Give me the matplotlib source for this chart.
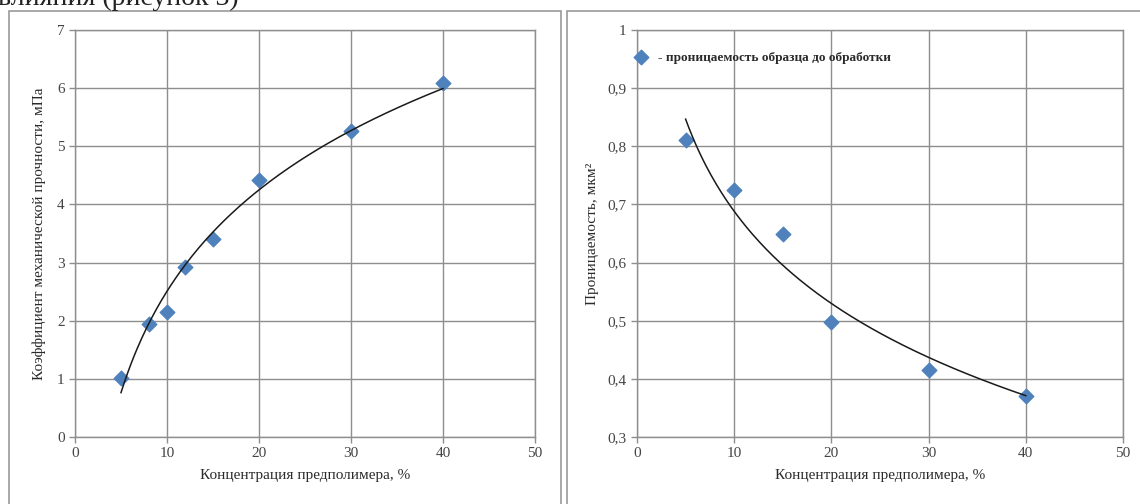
import numpy as np
import matplotlib
matplotlib.use("Agg")
import matplotlib.pyplot as plt
from matplotlib.patches import Rectangle

plt.rcParams['font.family'] = ['Liberation Serif', 'DejaVu Serif']

# left chart: strength coefficient
conc_left = [5, 8, 10, 12, 15, 20, 30, 40]
strength = [1.02, 1.95, 2.15, 2.93, 3.40, 4.42, 5.27, 6.08]

# right chart: permeability before treatment
conc_right = [5, 10, 15, 20, 30, 40]
permeability = [0.81, 0.725, 0.65, 0.498, 0.415, 0.37]

x_ticks = [0, 10, 20, 30, 40, 50]
left_yticks = [0, 1, 2, 3, 4, 5, 6, 7]
right_yticks = [0.3, 0.4, 0.5, 0.6, 0.7, 0.8, 0.9, 1.0]
right_ylabels = ['0,3', '0,4', '0,5', '0,6', '0,7', '0,8', '0,9', '1']

xlabel = 'Концентрация предполимера, %'
left_ylabel = 'Коэффициент механической прочности, мПа'
right_ylabel = 'Проницаемость, мкм²'
legend_text = '- проницаемость образца до обработки'

marker_color = '#4f81bd'
grid_color = '#8e8e8e'
tick_color = '#444444'

fig = plt.figure(figsize=(11.4, 5.04), dpi=100)

# outer chart frames (figure coords)
fig.patches.append(Rectangle((9 / 1140, -0.1), 552 / 1140, 1.1 - 11 / 504,
                             transform=fig.transFigure, fill=False,
                             edgecolor='#9a9a9a', lw=1.2))
fig.patches.append(Rectangle((567 / 1140, -0.1), 0.6, 1.1 - 11 / 504,
                             transform=fig.transFigure, fill=False,
                             edgecolor='#9a9a9a', lw=1.2))

# line of document text above the charts, cut by the page edge as in the scan
fig.text(-2 / 1140, 1 - 5 / 504, 'влияния (рисунок 3)', fontsize=20,
         va='baseline', ha='left', color='#222222')

ax1 = fig.add_axes([75 / 1140, 1 - 437 / 504, 460 / 1140, 407 / 504])
ax2 = fig.add_axes([637 / 1140, 1 - 437 / 504, 486 / 1140, 407 / 504])


def log_trend(ax, xs, ys):
    xs = np.asarray(xs, dtype=float)
    a, b = np.polyfit(np.log(xs), ys, 1)
    xx = np.linspace(xs.min(), xs.max(), 200)
    ax.plot(xx, a * np.log(xx) + b, color='#1a1a1a', lw=1.1, zorder=4)


def style(ax):
    ax.set_xlim(0, 50)
    ax.set_xticks(x_ticks)
    ax.grid(True, color=grid_color, lw=1)
    ax.set_axisbelow(True)
    for s in ax.spines.values():
        s.set_color(grid_color)
        s.set_linewidth(1)
    ax.tick_params(colors=grid_color, labelcolor=tick_color, labelsize=11,
                   length=4, width=1)
    ax.set_xlabel(xlabel, fontsize=11, color='#2a2a2a', labelpad=6)


ax1.scatter(conc_left, strength, marker='D', s=55, color=marker_color, zorder=3)
log_trend(ax1, conc_left, strength)
style(ax1)
ax1.set_ylim(0, 7)
ax1.set_yticks(left_yticks)
ax1.set_ylabel(left_ylabel, fontsize=11, color='#2a2a2a', labelpad=8)

ax2.scatter(conc_right, permeability, marker='D', s=55, color=marker_color,
            zorder=3, label=legend_text)
log_trend(ax2, conc_right, permeability)
style(ax2)
ax2.set_ylim(0.3, 1.0)
ax2.set_yticks(right_yticks)
ax2.set_yticklabels(right_ylabels)
ax2.set_ylabel(right_ylabel, fontsize=11, color='#2a2a2a', labelpad=6)
leg = ax2.legend(loc='upper left', bbox_to_anchor=(-0.03, 0.96), frameon=False,
                 prop={'size': 9.5, 'weight': 'bold'}, handletextpad=0.3,
                 borderaxespad=0)
for t in leg.get_texts():
    t.set_color('#2a2a2a')

fig.savefig('out.png', dpi=100)
